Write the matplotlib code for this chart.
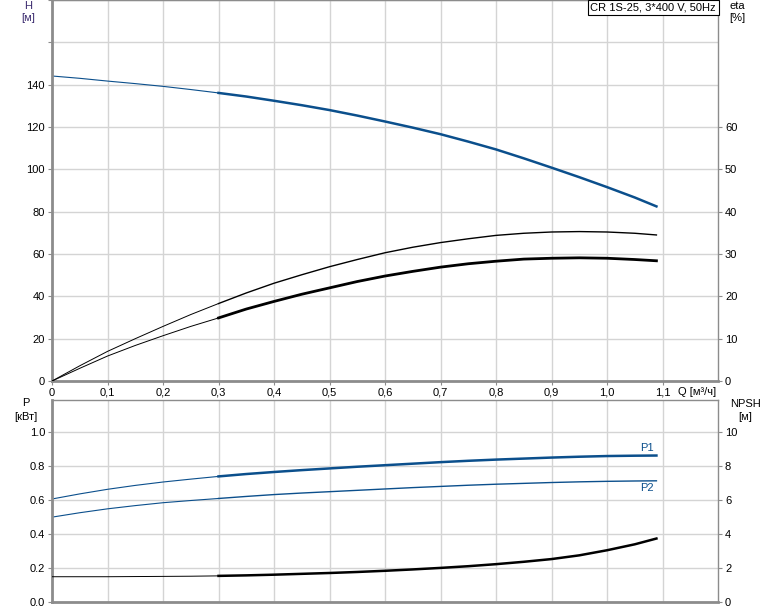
import numpy as np
import matplotlib
matplotlib.use('Agg')
import matplotlib.pyplot as plt

plt.rcParams['font.family'] = ['Liberation Sans', 'DejaVu Sans']

# расход, м3/ч
q = [0.0, 0.05, 0.1, 0.15, 0.2, 0.25, 0.3, 0.35, 0.4, 0.45, 0.5, 0.55,
     0.6, 0.65, 0.7, 0.75, 0.8, 0.85, 0.9, 0.95, 1.0, 1.05, 1.089]
# напор H, м
head = [144.1, 143.0, 141.7, 140.5, 139.2, 137.7, 136.1, 134.4, 132.4, 130.3, 128.0, 125.4,
        122.6, 119.7, 116.6, 113.1, 109.4, 105.2, 100.8, 96.3, 91.6, 86.7, 82.5]
# кпд насоса и общий кпд, %
eta_pump = [0.0, 3.6, 7.0, 10.0, 12.9, 15.7, 18.3, 20.8, 23.1, 25.1, 27.0, 28.7,
            30.3, 31.6, 32.7, 33.6, 34.4, 34.9, 35.2, 35.3, 35.2, 34.9, 34.5]
eta_total = [0.0, 3.0, 5.9, 8.4, 10.7, 12.9, 14.9, 17.0, 18.8, 20.5, 22.0, 23.5,
             24.8, 25.9, 26.9, 27.7, 28.3, 28.8, 29.0, 29.1, 29.0, 28.7, 28.4]
# мощность P1, P2, кВт
p1 = [0.607, 0.637, 0.664, 0.687, 0.707, 0.724, 0.740, 0.754, 0.766, 0.777, 0.787, 0.797,
      0.806, 0.815, 0.824, 0.832, 0.839, 0.845, 0.851, 0.856, 0.860, 0.862, 0.863]
p2 = [0.500, 0.526, 0.549, 0.568, 0.585, 0.598, 0.610, 0.622, 0.633, 0.642, 0.650, 0.658,
      0.666, 0.674, 0.681, 0.688, 0.694, 0.699, 0.704, 0.708, 0.711, 0.713, 0.714]
# NPSH, м
npsh = [1.49, 1.49, 1.49, 1.50, 1.51, 1.52, 1.54, 1.57, 1.61, 1.66, 1.71, 1.77,
        1.84, 1.92, 2.01, 2.11, 2.23, 2.37, 2.53, 2.75, 3.05, 3.40, 3.74]

x_ticks = [0, 0.1, 0.2, 0.3, 0.4, 0.5, 0.6, 0.7, 0.8, 0.9, 1.0, 1.1]
x_labels = ['0', '0,1', '0,2', '0,3', '0,4', '0,5', '0,6', '0,7', '0,8', '0,9', '1,0', '1,1']

blue = '#0b4f8c'
grid_c = '#d4d4d4'
spine_c = '#8c8c8c'
fs = 8

q = np.array(q)
thin = q <= 0.3
thick = q >= 0.3


def style(ax):
    for s in ax.spines.values():
        s.set_color(spine_c)
        s.set_linewidth(1.0)
    ax.spines['left'].set_linewidth(2)
    ax.spines['bottom'].set_linewidth(2)
    ax.grid(True, color=grid_c, lw=1)
    ax.set_axisbelow(True)
    ax.tick_params(labelsize=fs, length=3, color=spine_c, pad=2)


fig = plt.figure(figsize=(7.74, 6.11), dpi=100)

# верхний график: H и eta
ax1 = fig.add_axes([0.0672, 0.3764, 0.8605, 0.6236])
style(ax1)
ax1.plot(q[thin], np.array(head)[thin], color=blue, lw=0.8)
ax1.plot(q[thick], np.array(head)[thick], color=blue, lw=1.8)
ax1.set_xlim(0, 1.2)
ax1.set_ylim(0, 180)
ax1.set_xticks(x_ticks)
ax1.set_xticklabels(x_labels)
ax1.set_yticks(np.arange(0, 181, 20))
ax1.set_yticklabels([str(v) if v <= 140 else '' for v in range(0, 181, 20)])

ax1r = ax1.twinx()
ax1r.set_ylim(0, 90)
ax1r.set_yticks(np.arange(0, 61, 10))
ax1r.tick_params(labelsize=fs, length=3, color=spine_c, pad=2)
for s in ax1r.spines.values():
    s.set_visible(False)
ax1r.plot(q[thin], np.array(eta_pump)[thin], color='black', lw=0.7)
ax1r.plot(q[thick], np.array(eta_pump)[thick], color='black', lw=1.0)
ax1r.plot(q[thin], np.array(eta_total)[thin], color='black', lw=0.7)
ax1r.plot(q[thick], np.array(eta_total)[thick], color='black', lw=2.0)

fig.text(0.036, 0.999, 'H', fontsize=fs, ha='center', va='top', color='#3a2a6e')
fig.text(0.036, 0.978, '[м]', fontsize=fs, ha='center', va='top', color='#3a2a6e')
fig.text(0.953, 0.999, 'eta', fontsize=fs, ha='center', va='top')
fig.text(0.953, 0.978, '[%]', fontsize=fs, ha='center', va='top')
fig.text(0.876, 0.358, 'Q [м³/ч]', fontsize=fs, ha='left', va='center')
ax1.text(0.997, 0.994, 'CR 1S-25, 3*400 V, 50Hz', transform=ax1.transAxes,
         fontsize=fs, ha='right', va='top',
         bbox=dict(boxstyle='square,pad=0.25', fc='white', ec='black', lw=0.8))

# нижний график: P и NPSH
ax2 = fig.add_axes([0.0672, 0.0147, 0.8605, 0.3306])
style(ax2)
ax2.plot(q[thin], np.array(p1)[thin], color=blue, lw=0.8)
ax2.plot(q[thick], np.array(p1)[thick], color=blue, lw=1.8)
ax2.plot(q[thin], np.array(p2)[thin], color=blue, lw=0.8)
ax2.plot(q[thick], np.array(p2)[thick], color=blue, lw=1.0)
ax2.set_xlim(0, 1.2)
ax2.set_ylim(0, 1.19)
ax2.set_xticks(x_ticks)
ax2.set_xticklabels([])
ax2.tick_params(axis='x', length=0)
ax2.set_yticks([0, 0.2, 0.4, 0.6, 0.8, 1.0])
ax2.set_yticklabels(['0.0', '0.2', '0.4', '0.6', '0.8', '1.0'])
ax2.text(1.072, p1[-1] + 0.015, 'P1', fontsize=fs, color=blue, ha='center', va='bottom')
ax2.text(1.072, p2[-1] - 0.015, 'P2', fontsize=fs, color=blue, ha='center', va='top')

ax2r = ax2.twinx()
ax2r.set_ylim(0, 11.9)
ax2r.set_yticks(np.arange(0, 11, 2))
ax2r.tick_params(labelsize=fs, length=3, color=spine_c, pad=2)
for s in ax2r.spines.values():
    s.set_visible(False)
ax2r.plot(q[thin], np.array(npsh)[thin], color='black', lw=0.7)
ax2r.plot(q[thick], np.array(npsh)[thick], color='black', lw=1.8)

fig.text(0.033, 0.340, 'P', fontsize=fs, ha='center', va='center')
fig.text(0.033, 0.318, '[кВт]', fontsize=fs, ha='center', va='center')
fig.text(0.963, 0.339, 'NPSH', fontsize=fs, ha='center', va='center')
fig.text(0.963, 0.318, '[м]', fontsize=fs, ha='center', va='center')

fig.savefig('out.png', dpi=100)
